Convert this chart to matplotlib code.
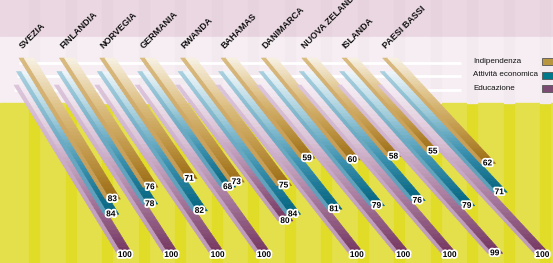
import matplotlib
matplotlib.use('Agg')
import matplotlib.pyplot as plt
import matplotlib.patheffects as pe
from matplotlib.collections import PolyCollection
from matplotlib.colors import LinearSegmentedColormap
from matplotlib.patches import Rectangle
import numpy as np

countries = ['SVEZIA', 'FINLANDIA', 'NORVEGIA', 'GERMANIA', 'RWANDA', 'BAHAMAS',
             'DANIMARCA', 'NUOVA ZELANDA', 'ISLANDA', 'PAESI BASSI']
indipendenza = [83, 76, 71, 73, 75, 59, 60, 58, 55, 62]
attivita = [84, 78, 82, 68, 84, 81, 79, 76, 79, 71]
educazione = [100, 100, 100, 100, 80, 100, 100, 100, 99, 100]
series_names = ['Indipendenza', 'Attività economica', 'Educazione']
series_values = [indipendenza, attivita, educazione]

swatch_colors = ['#b8963e', '#00788c', '#7a4a72']
left_face = [['#d9ba80', '#cfa865', '#c49a52'],
             ['#a9d0df', '#6aaac4', '#5a9dba'],
             ['#dcc6da', '#c8a8c8', '#bc98b8']]
right_face = [['#f8f2e4', '#e0c48c', '#c39a4c', '#9a6b14'],
              ['#eef6f9', '#9fcbdc', '#3a90b0', '#00627f'],
              ['#f6edf4', '#d9c1d7', '#a77a9f', '#72325e']]

font = ['Liberation Sans', 'DejaVu Sans']

fig = plt.figure(figsize=(5.53, 2.63), dpi=100)
ax = fig.add_axes([0, 0, 1, 1])
ax.set_xlim(0, 553)
ax.set_ylim(263, 0)
ax.axis('off')

# background bands and stripes
ax.add_patch(Rectangle((0, 0), 553, 37, color='#ead7e2', zorder=0))
ax.add_patch(Rectangle((0, 37), 553, 66, color='#f6eef3', zorder=0))
ax.add_patch(Rectangle((0, 103), 553, 160, color='#e4e04c', zorder=0))
for sx in np.arange(29, 553, 36.5):
    ax.add_patch(Rectangle((sx, 103), 10, 160, color='#e0dc28', zorder=0.1))
    ax.add_patch(Rectangle((sx, 0), 10, 37, color='#e7d3de', zorder=0.1))
    ax.add_patch(Rectangle((sx, 37), 10, 66, color='#f3eaf0', zorder=0.1))

# white guide lines
x_first = 19
step = 40.4
y_top = [58, 71.5, 85]
x_shift = [0, -2.5, -5]
ky = 1.7
lw_left, lw_right = 5, 10
for j in range(3):
    ax.plot([x_first + x_shift[j], 461], [y_top[j] + 4.5, y_top[j] + 4.5],
            color='white', lw=2, zorder=0.5, solid_capstyle='butt')

nseg = 40
for i, name in enumerate(countries):
    s = 1.04 + 0.06 * i
    for j in [2, 1, 0]:
        v = series_values[j][i]
        xt = x_first + step * i + x_shift[j]
        yt = y_top[j]
        u = np.linspace(0, v, nseg + 1)
        f = (u[:-1] + u[1:]) / 2 / v
        for off, w, cols in [(0, lw_left, left_face[j]), (lw_left, lw_right, right_face[j])]:
            cmap = LinearSegmentedColormap.from_list('c', cols)
            polys = []
            for a, b in zip(u[:-1], u[1:]):
                polys.append([(xt + a * s + off, yt + a * ky),
                              (xt + a * s + off + w, yt + a * ky),
                              (xt + b * s + off + w, yt + b * ky),
                              (xt + b * s + off, yt + b * ky)])
            pc = PolyCollection(polys, facecolors=cmap(f), edgecolors='face',
                                linewidths=0.4, zorder=1)
            ax.add_collection(pc)
        # value label at the bar end
        ax.text(xt + v * s + 7, yt + v * ky + 0.5, str(v), fontsize=6,
                fontweight='bold', family=font, ha='center', va='center',
                zorder=5,
                path_effects=[pe.withStroke(linewidth=2.6, foreground='white')])
    ax.text(x_first + step * i + 3.5, 49, name, rotation=45, rotation_mode='anchor',
            ha='left', va='baseline', fontsize=6.5, fontweight='bold', family=font,
            color='#111111', zorder=3)

# legend
for j, name in enumerate(series_names):
    yy = [61.5, 75, 88][j]
    ax.text(473, yy, name, fontsize=5.8, family=font, ha='left', va='center',
            color='#111111', zorder=3)
    ax.add_patch(Rectangle((542, yy - 3.5), 12, 7, facecolor=swatch_colors[j],
                           edgecolor='#555555', lw=0.6, zorder=3))

fig.savefig('out.png', dpi=100)
